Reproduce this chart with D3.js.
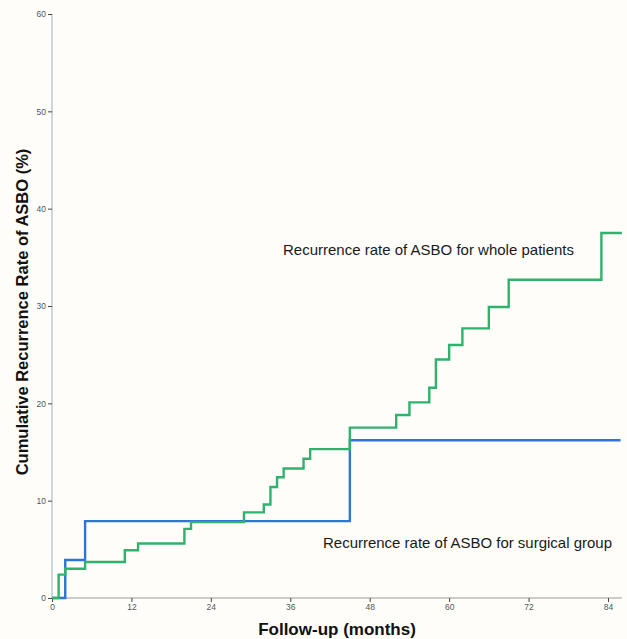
<!DOCTYPE html>
<html><head><meta charset="utf-8">
<script src="https://cdn.jsdelivr.net/npm/d3@7"></script>
<style>
html,body{margin:0;padding:0;background:#fefdfa;}
svg{display:block;}
</style></head>
<body>
<svg id="chart" width="627" height="639"></svg>
<script>
// Data
const xTicks = [0, 12, 24, 36, 48, 60, 72, 84];
const yTicks = [0, 10, 20, 30, 40, 50, 60];
const wholeMonths = [0, 1, 2, 5, 11, 13, 20, 21, 29, 32, 33, 34, 35, 38, 39, 45, 52, 54, 57, 58, 60, 62, 66, 69, 83, 86.1];
const wholeRates  = [0, 2.4, 3.0, 3.7, 4.9, 5.6, 7.1, 7.8, 8.8, 9.6, 11.4, 12.4, 13.3, 14.3, 15.3, 17.5, 18.8, 20.1, 21.6, 24.5, 26.0, 27.7, 29.9, 32.7, 37.5, 37.5];
const surgMonths  = [0, 2, 5, 45, 85.9];
const surgRates   = [0, 3.9, 7.9, 16.2, 16.2];
const labelWhole = "Recurrence rate of ASBO for whole patients";
const labelSurg = "Recurrence rate of ASBO for surgical group";
const xTitle = "Follow-up (months)";
const yTitle = "Cumulative Recurrence Rate of ASBO (%)";

const svg = d3.select("#chart");
const x = d3.scaleLinear().domain([0, 84]).range([52, 608]);
const y = d3.scaleLinear().domain([0, 60]).range([598, 14]);
const xMax = 86.1;
const font = "Liberation Sans, Arial, sans-serif";

// axes
const yAxis = d3.axisLeft(y).tickValues(yTicks).tickSize(4).tickPadding(2);
const gy = svg.append("g").attr("transform", `translate(${x(0)},0)`).call(yAxis);
gy.select(".domain").attr("stroke", "#a9bccb").attr("stroke-width", 1.2).attr("d", `M0,${y(60)}V${y(0)}`);
gy.selectAll(".tick line").attr("stroke", "#444");
gy.selectAll(".tick text").attr("font-family", font).attr("font-size", 8.5).attr("fill", "#555");

const xAxis = d3.axisBottom(x).tickValues(xTicks).tickSize(4).tickPadding(2);
const gx = svg.append("g").attr("transform", `translate(0,${y(0)})`).call(xAxis);
gx.select(".domain").attr("stroke", "#999").attr("stroke-width", 1.2).attr("d", `M${x(0)},0H${x(xMax)}`);
gx.selectAll(".tick line").attr("stroke", "#444");
gx.selectAll(".tick text").attr("font-family", font).attr("font-size", 8.5).attr("fill", "#555");

// step lines
const line = d3.line().x(d => x(d[0])).y(d => y(d[1])).curve(d3.curveStepAfter);
const wholeData = wholeMonths.map((m, i) => [m, wholeRates[i]]);
const surgData = surgMonths.map((m, i) => [m, surgRates[i]]);

svg.append("path").datum(surgData).attr("d", line)
  .attr("fill", "none").attr("stroke", "#2f74d6").attr("stroke-width", 2.4);
svg.append("path").datum(wholeData).attr("d", line)
  .attr("fill", "none").attr("stroke", "#2fb36c").attr("stroke-width", 2.4);

// labels
svg.append("text").attr("x", 283).attr("y", 255)
  .attr("font-family", font).attr("font-size", 14.5)
  .attr("fill", "#1a1a1a").attr("textLength", 291).attr("lengthAdjust", "spacingAndGlyphs").text(labelWhole);
svg.append("text").attr("x", 323).attr("y", 548)
  .attr("font-family", font).attr("font-size", 14.5)
  .attr("fill", "#1a1a1a").attr("textLength", 289).attr("lengthAdjust", "spacingAndGlyphs").text(labelSurg);

svg.append("text").attr("x", 337).attr("y", 635).attr("text-anchor", "middle")
  .attr("font-family", font).attr("font-size", 17).attr("font-weight", "bold")
  .attr("fill", "#111").text(xTitle);
svg.append("text").attr("transform", "translate(28,312) rotate(-90)").attr("text-anchor", "middle")
  .attr("font-family", font).attr("font-size", 16.5).attr("font-weight", "bold")
  .attr("fill", "#111").text(yTitle);
</script>
</body></html>
